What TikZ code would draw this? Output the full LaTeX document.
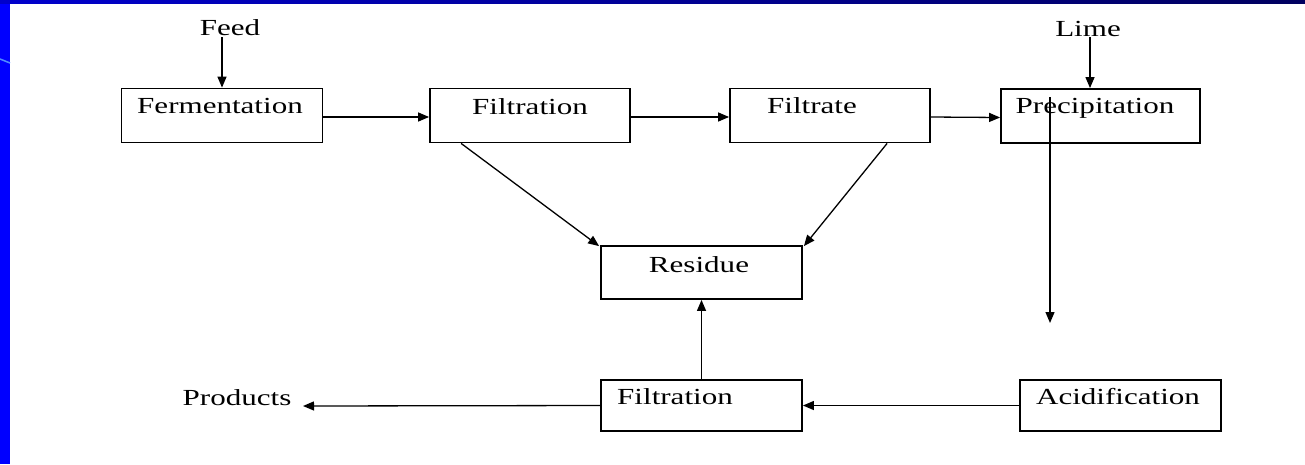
\documentclass[tikz,border=0pt]{standalone}
\usepackage{fontspec}
\setmainfont{Liberation Serif}
\usetikzlibrary{arrows.meta,calc}
\definecolor{navyend}{RGB}{0,0,95}
\definecolor{lightstroke}{RGB}{80,140,255}
\newcommand{\wide}[1]{\scalebox{1.35}[1]{#1}}
\begin{document}
\begin{tikzpicture}[x=1pt,y=-1pt,
  box/.style={draw,rectangle,line width=1.8pt,minimum width=200pt,minimum height=53pt,inner sep=0pt},
  lbl/.style={anchor=base,inner sep=0pt,font=\fontsize{23}{25}\selectfont},
  arr/.style={line width=1.3pt,-{Triangle[length=11pt,width=9pt]}},
  plain/.style={line width=1.3pt}]
\useasboundingbox (0,0) rectangle (1305,464);
% background frame
\fill[blue] (0,0) rectangle (10,464);
\shade[left color=blue!80!black,right color=navyend] (0,0) rectangle (1305,3);
\draw[lightstroke,line width=1.5pt] (0,59) -- (10,63);
% boxes
\node[box,minimum width=201pt,minimum height=54pt] (ferm) at (222,115.5) {};
\node[box,minimum height=54pt] (ftop) at (530,115.5) {};
\node[box,minimum height=54pt] (filtrate) at (830,115.5) {};
\node[box,minimum width=199pt,minimum height=54pt] (precip) at (1100.5,116) {};
\node[box,minimum width=201pt] (res) at (701.5,272.5) {};
\node[box,minimum width=201pt,minimum height=51pt] (fbot) at (701.5,405.5) {};
\node[box,minimum width=201pt,minimum height=51pt] (acid) at (1120.5,405.5) {};
% texts
\node[lbl] (tferm) at (220,113) {\wide{Fermentation}};
\node[lbl] (tftop) at (530,114) {\wide{Filtration}};
\node[lbl] (tfiltrate) at (812,113) {\wide{Filtrate}};
\node[lbl] (tprecip) at (1095,113) {\wide{Precipitation}};
\node[lbl] (tres) at (699,272) {\wide{Residue}};
\node[lbl] (tfbot) at (675,404) {\wide{Filtration}};
\node[lbl] (tacid) at (1118,404) {\wide{Acidification}};
\node[lbl] (feed) at (230,35) {\wide{Feed}};
\node[lbl] (lime) at (1088,36) {\wide{Lime}};
\node[lbl] (products) at (237,405) {\wide{Products}};
% free ends
\coordinate (feedend) at (222,37);
\coordinate (limeend) at (1090,37);
\coordinate (pstart) at (1050,97);
\coordinate (pend) at (1050,323);
\coordinate (prodend) at (303,406);
% connectors
\draw[arr] (feedend) -- (feedend |- ferm.north);
\draw[arr] (limeend) -- (limeend |- precip.north);
\draw[arr] ([yshift=-1.5pt]ferm.east) -- ([yshift=-1.5pt]ftop.west);
\draw[arr] ([yshift=-1.5pt]ftop.east) -- ([yshift=-1.5pt]filtrate.west);
\draw[arr] ([yshift=-1.5pt]filtrate.east) -- ([yshift=-1.5pt]precip.west);
\draw[arr] ([xshift=32pt]ftop.south west) -- ([xshift=-1pt,yshift=-1pt]res.north west);
\draw[arr] ([xshift=158pt]filtrate.south west) -- ([xshift=1pt,yshift=-1pt]res.north east);
\draw[arr] (pstart) -- (pend);
\draw[arr] (fbot.north) -- (res.south);
\draw[arr] (acid.west) -- (fbot.east);
\draw[arr] (fbot.west) -- (prodend);
\end{tikzpicture}
\end{document}
